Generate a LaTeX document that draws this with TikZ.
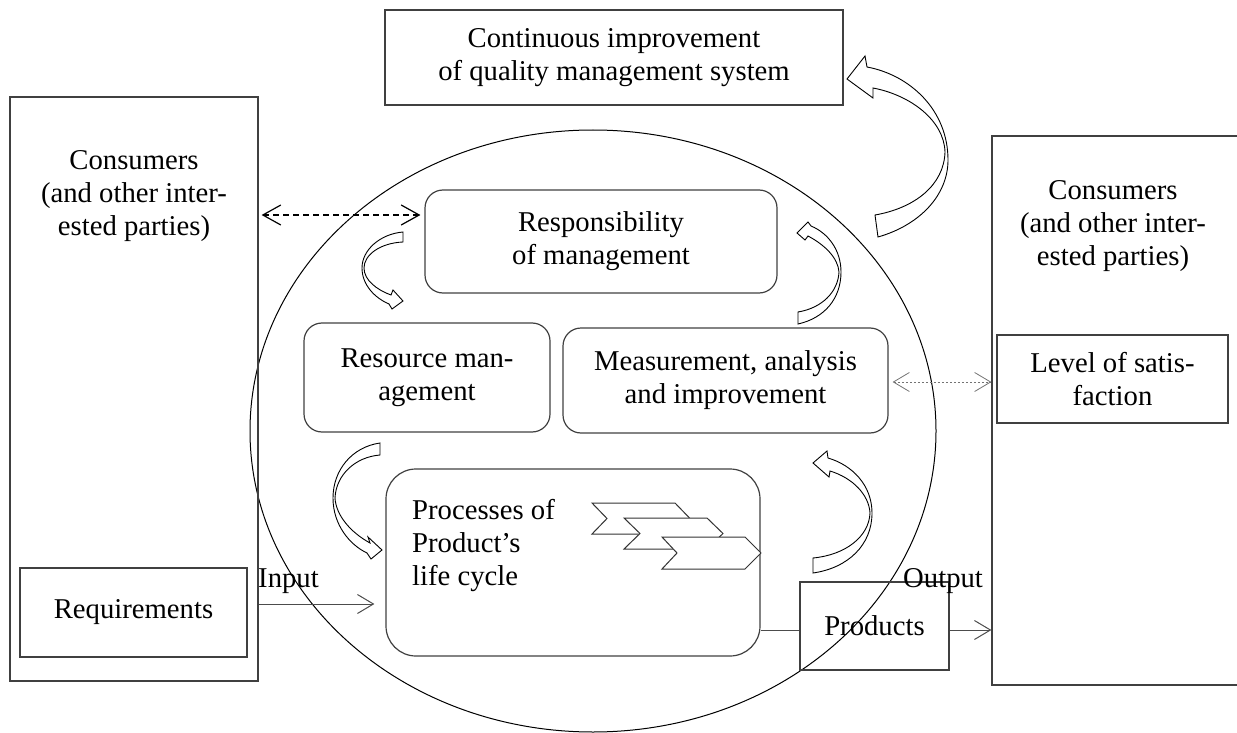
\documentclass[tikz,border=0pt]{standalone}
\usepackage{fontspec}
\setmainfont{Liberation Serif}
\usetikzlibrary{arrows.meta,shapes.geometric}
\begin{document}
\begin{tikzpicture}[x=1pt,y=-1pt,
  every node/.style={font=\fontsize{28.7}{33}\selectfont, inner sep=0pt},
  box/.style={draw=black!75, line width=1.2pt, align=center},
  rbox/.style={box, rounded corners=18pt},
  txt/.style={align=center},
  conn/.style={draw=black!70, line width=1pt},
  arr/.style={conn, -{Straight Barb[length=16pt,width=19pt]}},
  carrow/.style={draw=black, line width=0.9pt, fill=white, line join=miter},
  chev/.style={draw=black!80, line width=1pt, fill=white, line join=miter}
]
\useasboundingbox (0,0) rectangle (1237,733);

% large ellipse
\node[draw=black, line width=1pt, ellipse, minimum width=686pt, minimum height=602pt] (circ) at (593,431) {};

% outer boxes
\node[box, minimum width=458pt, minimum height=95pt] (top) at (614,57.5) {Continuous improvement\\of quality management system};
\node[box, minimum width=248pt, minimum height=584pt] (lbox) at (134,389) {};
\node[txt] (ltext) at (134,196) {Consumers\\(and other inter-\\ested parties)};
\node[box, minimum width=227pt, minimum height=89pt] (req) at (133.5,612.5) {Requirements};
\node[box, minimum width=268pt, minimum height=549pt] (rb) at (1126,410.5) {};
\node[txt] (rtext) at (1113,226) {Consumers\\(and other inter-\\ested parties)};
\node[box, minimum width=231pt, minimum height=88pt] (level) at (1112.5,379) {Level of satis-\\faction};

% inner boxes
\node[rbox, minimum width=352pt, minimum height=103pt] (resp) at (601,241.5) {Responsibility\\of management};
\node[rbox, minimum width=246pt, minimum height=109pt] (res) at (427,377.5) {Resource man-\\agement};
\node[rbox, minimum width=325pt, minimum height=105pt] (meas) at (725.5,380.5) {Measurement, analysis\\and improvement};
\node[rbox, rounded corners=30pt, minimum width=374pt, minimum height=187pt] (proc) at (573,562.5) {};
\node[anchor=north west, align=left] (proctext) at (412,499) {Processes of\\Product’s\\life cycle};
\node[box, minimum width=149pt, minimum height=88pt] (prod) at (874.5,626) {Products};

% chevrons
\draw[chev] (592,503) -- (675,503) -- (690,518.5) -- (675,534) -- (592,534) -- (607,518.5) -- cycle;
\draw[chev] (624,518) -- (707,518) -- (723,533.5) -- (707,549) -- (624,549) -- (640,533.5) -- cycle;
\draw[chev] (662,537) -- (745,537) -- (761,553) -- (745,569) -- (662,569) -- (677,553) -- cycle;

% labels
\node[anchor=base west] (inlab) at (258,587) {Input};
\node[anchor=base west] (outlab) at (903,587) {Output};

% connectors
\coordinate (inY) at (0,604);
\coordinate (outY) at (0,630);
\coordinate (dY) at (0,215);
\coordinate (sY) at (0,382);
\draw[arr, shorten >=11pt] (lbox.east |- inY) -- (proc.west |- inY);
\draw[conn] (proc.east |- outY) -- (prod.west |- outY);
\draw[arr] (prod.east |- outY) -- (rb.west |- outY);
\draw[draw=black, line width=1.2pt, dash pattern=on 6pt off 4pt,
  {Straight Barb[length=18pt,width=20pt]}-{Straight Barb[length=18pt,width=20pt]},
  shorten <=3pt, shorten >=4pt] (lbox.east |- dY) -- (resp.west |- dY);
\draw[draw=black!55, line width=0.8pt, dash pattern=on 2pt off 2pt,
  {Straight Barb[length=16pt,width=19pt]}-{Straight Barb[length=16pt,width=19pt]},
  shorten <=4pt] (meas.east |- sY) -- (rb.west |- sY);

% curved block arrows
% A: to top box
\draw[carrow] (878,237) .. controls (920,225) and (948,195) .. (948,160)
  .. controls (948,110) and (910,75) .. (867,67) -- (865,56) -- (847,79) -- (873,98) -- (873,88)
  .. controls (910,95) and (944,120) .. (945,152) .. controls (944,185) and (915,208) .. (875,215) -- cycle;
% B: from responsibility to resource
\draw[carrow] (403,232) .. controls (380,234) and (362,250) .. (362,268)
  .. controls (362,285) and (375,298) .. (389,304) -- (392,309) -- (403,301) -- (393,290) -- (391,295)
  .. controls (377,290) and (364,280) .. (364,268) .. controls (364,255) and (380,243) .. (403,242) -- cycle;
% C: from measurement to responsibility
\draw[carrow] (798,324) .. controls (825,318) and (841,298) .. (841,272)
  .. controls (841,250) and (828,233) .. (811,226) -- (808,222) -- (797,233) -- (805,240) -- (808,236)
  .. controls (825,245) and (838,258) .. (839,272) .. controls (838,292) and (822,308) .. (798,312) -- cycle;
% D: from resource to processes
\draw[carrow] (380,443) .. controls (352,447) and (333,470) .. (333,498)
  .. controls (333,525) and (350,545) .. (367,553) -- (371,559) -- (382,550) -- (368,537) -- (370,543)
  .. controls (350,532) and (336,515) .. (335,498) .. controls (336,475) and (355,457) .. (380,455) -- cycle;
% E: from processes to measurement
\draw[carrow] (813,573) .. controls (848,568) and (872,545) .. (872,513)
  .. controls (872,485) and (852,465) .. (828,458) -- (827,451) -- (813,463) -- (829,477) -- (830,471)
  .. controls (853,478) and (869,495) .. (870,513) .. controls (869,537) and (845,555) .. (813,558) -- cycle;
\end{tikzpicture}
\end{document}
